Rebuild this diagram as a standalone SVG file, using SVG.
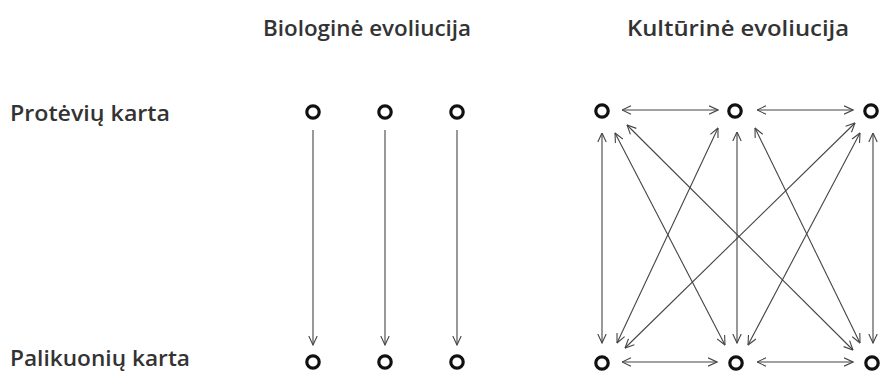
<svg xmlns="http://www.w3.org/2000/svg" width="885" height="374" viewBox="0 0 885 374">
<style>
.t{font-family:"Open Sans","Noto Sans","Liberation Sans",sans-serif;font-weight:600;font-size:22px;fill:#333}
.n{fill:none;stroke:#111;stroke-width:3.2}
.c{stroke:#444;stroke-width:1.1;fill:none}
.s{marker-end:url(#a)}
.d{marker-start:url(#a);marker-end:url(#a)}
</style>
<defs>
<marker id="a" viewBox="0 0 10 10" refX="9.5" refY="5" markerWidth="10" markerHeight="10" markerUnits="userSpaceOnUse" orient="auto-start-reverse">
<path d="M0.5,0.8 L9.5,5 L0.5,9.2" fill="none" stroke="#444" stroke-width="1.1"/>
</marker>
</defs>
<rect width="885" height="374" fill="#fff"/>
<g id="labels">
<text class="t" x="367" y="36" text-anchor="middle" textLength="208" lengthAdjust="spacingAndGlyphs">Biologinė evoliucija</text>
<text class="t" x="738" y="36" text-anchor="middle" textLength="222" lengthAdjust="spacingAndGlyphs">Kultūrinė evoliucija</text>
<text class="t" x="10" y="121" textLength="160" lengthAdjust="spacingAndGlyphs">Protėvių karta</text>
<text class="t" x="10" y="366" textLength="180" lengthAdjust="spacingAndGlyphs">Palikuonių karta</text>
</g>
<g id="connectors">
<line class="c s" x1="313" y1="130" x2="313" y2="345"/>
<line class="c s" x1="385" y1="130" x2="385" y2="345"/>
<line class="c s" x1="457" y1="130" x2="457" y2="345"/>
<line class="c d" x1="622" y1="110" x2="718" y2="110"/>
<line class="c d" x1="757" y1="110" x2="853" y2="110"/>
<line class="c d" x1="622" y1="362" x2="717" y2="362"/>
<line class="c d" x1="757" y1="362" x2="853" y2="362"/>
<line class="c d" x1="602" y1="133" x2="602" y2="343"/>
<line class="c d" x1="737" y1="132" x2="737" y2="343"/>
<line class="c d" x1="873" y1="133" x2="873" y2="343"/>
<line class="c d" x1="615" y1="133" x2="725" y2="345"/>
<line class="c d" x1="627" y1="125" x2="853" y2="350"/>
<line class="c d" x1="718" y1="128" x2="617" y2="343"/>
<line class="c d" x1="755" y1="128" x2="860" y2="343"/>
<line class="c d" x1="855" y1="123" x2="625" y2="348"/>
<line class="c d" x1="860" y1="133" x2="748" y2="345"/>
</g>
<g id="bio-top-1"><circle class="n" cx="313" cy="112" r="6.2"/></g>
<g id="bio-top-2"><circle class="n" cx="385" cy="112" r="6.2"/></g>
<g id="bio-top-3"><circle class="n" cx="457" cy="112" r="6.2"/></g>
<g id="bio-bot-1"><circle class="n" cx="313" cy="362" r="6.2"/></g>
<g id="bio-bot-2"><circle class="n" cx="385" cy="362" r="6.2"/></g>
<g id="bio-bot-3"><circle class="n" cx="457" cy="362" r="6.2"/></g>
<g id="cul-top-1"><circle class="n" cx="602" cy="111" r="6.2"/></g>
<g id="cul-top-2"><circle class="n" cx="735" cy="111" r="6.2"/></g>
<g id="cul-top-3"><circle class="n" cx="871" cy="111" r="6.2"/></g>
<g id="cul-bot-1"><circle class="n" cx="602" cy="363" r="6.2"/></g>
<g id="cul-bot-2"><circle class="n" cx="736" cy="363" r="6.2"/></g>
<g id="cul-bot-3"><circle class="n" cx="872" cy="363" r="6.2"/></g>
</svg>
